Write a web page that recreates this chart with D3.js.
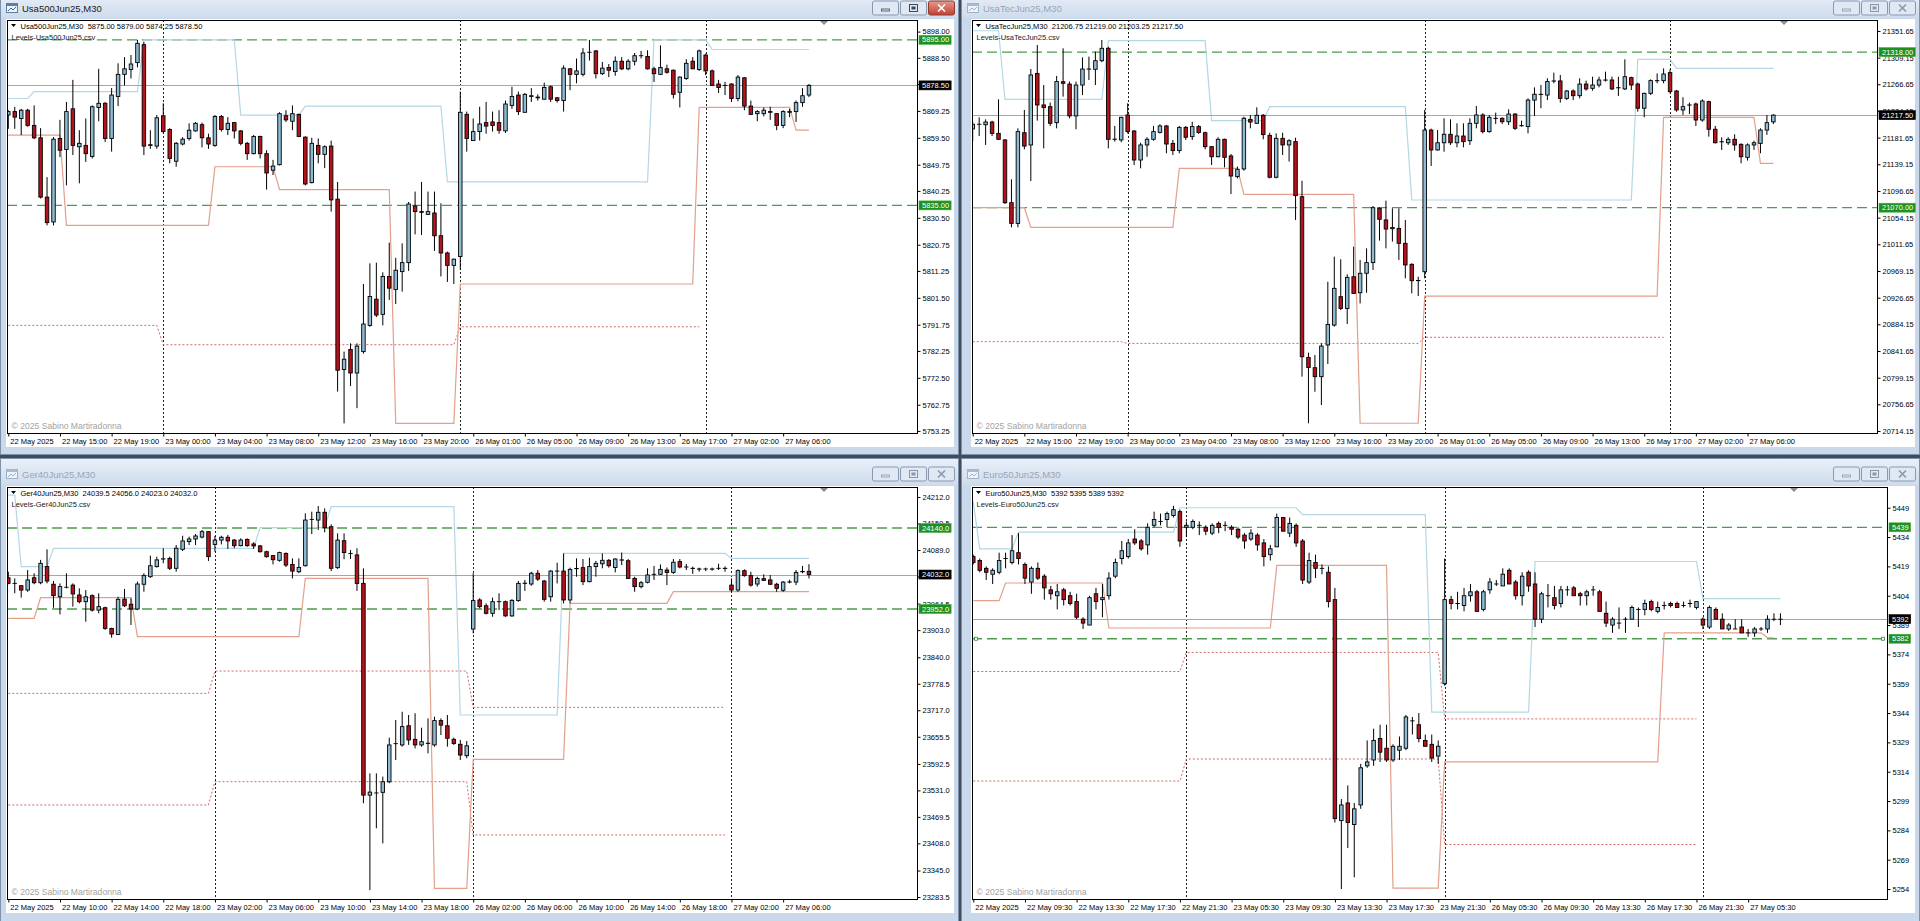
<!DOCTYPE html>
<html><head><meta charset="utf-8">
<script src="https://cdn.jsdelivr.net/npm/d3@7"></script>
<style>
html,body{margin:0;padding:0;background:#3e4c5d;overflow:hidden}
svg{display:block}
</style></head><body>
<svg id="chart" width="1920" height="921"></svg>
<script>
// ===================== DATA =====================
const usTimeLabels = ["22 May 2025","22 May 15:00","22 May 19:00","23 May 00:00","23 May 04:00","23 May 08:00","23 May 12:00","23 May 16:00","23 May 20:00","26 May 01:00","26 May 05:00","26 May 09:00","26 May 13:00","26 May 17:00","27 May 02:00","27 May 06:00"];
const gerTimeLabels = ["22 May 2025","22 May 10:00","22 May 14:00","22 May 18:00","23 May 02:00","23 May 06:00","23 May 10:00","23 May 14:00","23 May 18:00","26 May 02:00","26 May 06:00","26 May 10:00","26 May 14:00","26 May 18:00","27 May 02:00","27 May 06:00"];
const euTimeLabels = ["22 May 2025","22 May 09:30","22 May 13:30","22 May 17:30","22 May 21:30","23 May 05:30","23 May 09:30","23 May 13:30","23 May 17:30","23 May 21:30","26 May 05:30","26 May 09:30","26 May 13:30","26 May 17:30","26 May 21:30","27 May 05:30"];

const usSeparators = [24, 70, 108];
const gerSeparators = [32, 72, 112];
const euSeparators = [33, 73, 113];

const us500Ticks = [5898.00,5888.50,5879.00,5869.25,5859.50,5849.75,5840.25,5830.50,5820.75,5811.25,5801.50,5791.75,5782.25,5772.50,5762.75,5753.25];
const usTecTicks = [21351.65,21309.15,21266.65,21224.15,21181.65,21139.15,21096.65,21054.15,21011.65,20969.15,20926.65,20884.15,20841.65,20799.15,20756.65,20714.15];
const ger40Ticks = [24212.0,24150.5,24089.0,24027.5,23964.5,23903.0,23840.0,23778.5,23717.0,23655.5,23592.5,23531.0,23469.5,23408.0,23345.0,23283.5];
const eu50Ticks = [5449,5434,5419,5404,5389,5374,5359,5344,5329,5314,5299,5284,5269,5254];

const us500Levels = [5895.00, 5835.00];
const usTecLevels = [21318.00, 21070.00];
const ger40Levels = [24140.0, 23952.0];
const eu50Levels = [5439, 5382];

// [open, high, low, close]
const us500Bars = [
[5867.75,5869.5,5862.75,5869.0],[5869.0,5870.75,5862.75,5867.0],[5866.5,5870.0,5860.5,5869.5],[5869.5,5870.0,5863.5,5864.0],[5864.0,5871.25,5859.0,5859.5],
[5859.5,5863.0,5837.5,5838.0],[5838.0,5845.25,5827.75,5828.75],[5829.0,5859.75,5827.75,5859.0],[5859.25,5866.0,5852.5,5855.0],[5855.25,5872.5,5842.25,5869.0],
[5870.0,5880.5,5853.25,5856.75],[5856.25,5862.25,5843.0,5857.5],[5856.75,5866.5,5850.75,5853.75],[5852.75,5871.25,5852.0,5870.75],[5870.5,5884.5,5865.5,5872.0],
[5872.0,5872.5,5858.0,5859.25],[5859.25,5877.5,5854.5,5875.0],[5874.5,5886.5,5871.0,5882.5],[5882.5,5888.75,5878.5,5884.5],[5884.25,5889.5,5881.0,5886.25],
[5886.75,5895.0,5885.0,5893.75],[5893.25,5894.25,5853.25,5856.5],[5856.75,5862.25,5855.5,5857.0],[5856.5,5867.75,5855.5,5866.75],[5867.5,5872.0,5861.0,5861.75],
[5862.5,5863.0,5850.25,5852.0],[5851.0,5858.0,5849.0,5857.5],[5857.25,5859.75,5856.75,5859.0],[5859.25,5864.75,5858.5,5862.25],[5862.0,5865.25,5861.75,5864.75],
[5864.25,5865.0,5856.0,5859.5],[5859.5,5861.0,5855.5,5857.25],[5856.75,5867.75,5856.25,5867.25],[5867.25,5867.75,5861.75,5862.5],[5862.5,5867.0,5860.5,5864.75],
[5865.0,5865.25,5859.25,5862.0],[5862.0,5862.25,5856.75,5857.5],[5857.5,5858.0,5851.5,5853.75],[5853.75,5860.5,5853.5,5860.0],[5860.0,5860.25,5852.0,5853.75],
[5853.75,5855.0,5840.75,5846.75],[5847.75,5851.5,5846.0,5849.25],[5849.75,5868.75,5849.5,5868.25],[5867.5,5869.5,5865.25,5866.0],[5865.5,5871.25,5862.25,5868.25],
[5868.0,5868.25,5859.75,5860.0],[5859.75,5860.0,5842.25,5842.75],[5843.25,5859.5,5843.0,5857.5],[5856.75,5859.25,5850.25,5853.5],[5853.5,5856.75,5848.5,5856.25],
[5856.5,5858.5,5832.75,5837.0],[5837.25,5843.5,5767.5,5775.25],[5775.5,5782.0,5756.0,5779.25],[5782.75,5785.0,5769.5,5774.25],[5774.25,5785.0,5761.5,5784.0],
[5782.0,5806.5,5781.25,5792.0],[5791.5,5814.0,5791.0,5802.0],[5801.0,5814.25,5794.5,5795.25],[5795.5,5810.75,5791.5,5809.25],[5809.25,5821.5,5800.75,5805.0],
[5804.5,5816.0,5799.25,5811.5],[5811.0,5821.25,5803.75,5814.25],[5814.25,5836.25,5811.25,5835.5],[5834.75,5840.0,5824.5,5832.75],[5832.75,5843.5,5824.25,5832.5],
[5831.75,5840.0,5831.5,5832.75],[5832.25,5840.0,5818.5,5824.0],[5824.0,5835.75,5809.25,5817.75],[5817.75,5818.25,5807.25,5813.25],[5813.25,5815.75,5806.5,5815.5],
[5816.5,5876.25,5811.75,5868.75],[5868.0,5869.0,5854.5,5859.25],[5858.5,5866.5,5858.5,5861.75],[5861.75,5870.75,5858.5,5864.5],[5865.0,5872.5,5861.0,5863.75],
[5865.25,5869.0,5861.75,5864.0],[5865.0,5869.5,5861.0,5862.25],[5862.0,5873.0,5861.25,5871.75],[5871.25,5878.0,5870.0,5874.5],[5875.0,5876.25,5867.75,5869.0],
[5868.75,5875.75,5868.5,5875.25],[5874.5,5877.5,5872.5,5874.75],[5874.25,5875.25,5873.0,5874.0],[5873.5,5879.5,5873.25,5877.75],[5878.0,5878.5,5872.5,5873.5],
[5874.0,5874.25,5872.25,5873.0],[5873.0,5885.75,5869.0,5884.75],[5884.5,5884.75,5876.75,5882.5],[5882.5,5888.25,5879.25,5883.75],[5882.5,5892.0,5881.75,5890.25],
[5890.5,5895.0,5887.5,5890.5],[5891.0,5891.25,5881.0,5882.75],[5882.75,5887.0,5882.25,5884.75],[5885.0,5886.25,5881.5,5884.0],[5883.5,5889.0,5882.0,5887.25],
[5887.25,5888.75,5884.0,5884.5],[5884.5,5888.0,5884.0,5887.25],[5887.25,5890.25,5885.75,5889.25],[5889.25,5891.0,5888.25,5889.25],[5889.0,5891.25,5884.25,5884.5],
[5884.5,5885.25,5879.75,5882.75],[5882.5,5893.0,5882.25,5885.0],[5884.5,5886.0,5882.75,5883.25],[5884.0,5884.25,5873.75,5875.25],[5876.0,5881.75,5870.5,5881.5],
[5881.0,5888.0,5880.5,5886.5],[5887.25,5888.75,5884.5,5884.5],[5884.25,5891.5,5883.75,5891.0],[5889.5,5890.0,5882.25,5883.75],[5883.75,5884.25,5878.25,5878.5],
[5879.0,5880.5,5875.75,5877.75],[5878.5,5879.75,5875.0,5878.5],[5879.0,5879.25,5872.5,5873.75],[5873.75,5882.25,5872.75,5881.5],[5881.25,5881.5,5869.5,5871.0],
[5871.0,5873.0,5867.75,5868.0],[5868.25,5869.5,5865.5,5869.0],[5868.25,5870.5,5867.25,5869.5],[5869.0,5870.75,5866.0,5868.75],[5868.25,5868.5,5862.25,5864.0],
[5864.0,5869.5,5863.0,5869.0],[5868.75,5870.0,5867.0,5869.0],[5869.0,5873.0,5865.25,5872.25],[5872.25,5877.5,5870.75,5874.75],[5875.00,5879.00,5874.25,5878.50]
];

const usTecBars = [
[21195.5,21207.0,21176.25,21203.0],[21203.0,21214.0,21184.25,21203.0],[21202.25,21210.75,21170.0,21206.5],[21206.5,21208.75,21184.25,21188.5],[21188.5,21242.75,21178.0,21179.0],
[21178.0,21179.0,21076.0,21078.0],[21078.0,21115.25,21038.75,21045.0],[21045.0,21196.5,21038.75,21191.25],[21189.5,21225.75,21163.0,21168.25],[21170.0,21291.0,21112.5,21281.5],
[21284.0,21329.25,21208.75,21233.75],[21233.75,21265.5,21164.5,21229.5],[21231.0,21237.5,21200.25,21204.5],[21205.5,21280.0,21196.5,21271.0],[21270.75,21324.0,21247.0,21268.25],
[21267.0,21271.0,21212.5,21216.25],[21216.25,21271.0,21195.0,21265.5],[21265.5,21309.5,21249.5,21291.0],[21290.75,21310.75,21273.5,21291.0],[21290.5,21318.75,21265.5,21304.25],
[21304.25,21337.25,21301.75,21324.0],[21324.0,21326.5,21164.5,21179.0],[21179.0,21200.25,21175.25,21179.25],[21178.0,21215.0,21174.25,21214.0],[21217.75,21236.25,21188.5,21191.25],
[21192.25,21193.75,21138.0,21146.0],[21146.0,21173.5,21132.75,21170.0],[21170.0,21182.25,21151.25,21179.0],[21179.0,21200.25,21176.75,21191.25],[21190.0,21203.0,21188.5,21200.25],
[21200.25,21201.75,21156.75,21171.5],[21172.5,21178.0,21154.0,21161.0],[21161.0,21200.25,21156.75,21198.0],[21198.0,21200.25,21178.0,21182.25],[21183.25,21207.0,21178.0,21199.25],
[21199.25,21201.75,21187.5,21190.0],[21189.5,21191.25,21163.0,21167.25],[21167.25,21168.25,21138.0,21151.25],[21151.25,21182.25,21150.25,21179.0],[21179.0,21180.0,21134.25,21150.25],
[21152.5,21155.5,21091.75,21120.5],[21119.5,21135.5,21116.75,21131.25],[21131.75,21215.0,21129.0,21212.5],[21210.75,21217.75,21196.5,21206.5],[21204.5,21230.0,21203.5,21217.25],
[21217.25,21219.25,21179.0,21186.5],[21185.25,21189.5,21116.75,21118.5],[21118.5,21188.5,21116.75,21180.5],[21180.5,21189.5,21154.0,21170.0],[21170.0,21179.0,21143.5,21176.75],
[21175.25,21181.5,21050.5,21089.25],[21087.5,21113.0,20800.75,20832.5],[20831.5,20839.0,20726.5,20815.5],[20815.0,20835.25,20776.75,20800.75],[20800.75,20854.0,20755.5,20849.5],
[20851.25,20952.0,20821.0,20884.0],[20883.0,20992.0,20880.5,20941.5],[20928.25,20987.75,20907.0,20909.5],[20909.5,20963.75,20884.75,20959.0],[20960.0,21008.0,20932.5,20933.5],
[20934.5,20986.75,20917.5,20965.5],[20965.5,21005.25,20934.5,20982.5],[20982.5,21072.75,20970.75,21070.0],[21069.0,21070.5,21017.5,21051.5],[21050.5,21081.25,21005.25,21036.0],
[21036.5,21069.0,21016.0,21038.5],[21037.0,21069.0,20986.75,21013.25],[21013.25,21050.5,20957.5,20978.75],[20979.75,20981.5,20933.5,20953.75],[20953.75,20960.0,20929.25,20954.0],
[20968.0,21225.75,20957.5,21193.75],[21193.75,21196.0,21136.5,21162.0],[21162.0,21193.75,21161.0,21173.5],[21173.5,21212.5,21159.25,21187.0],[21187.0,21210.75,21170.0,21173.5],
[21173.5,21204.5,21166.25,21184.25],[21184.25,21204.5,21166.25,21175.25],[21176.75,21212.5,21170.0,21204.5],[21204.5,21232.0,21196.5,21217.75],[21217.75,21220.5,21188.5,21191.25],
[21191.25,21217.75,21189.5,21214.0],[21212.25,21221.5,21203.5,21212.5],[21212.5,21214.0,21203.5,21207.0],[21207.0,21226.75,21201.75,21219.25],[21219.25,21220.5,21193.75,21196.5],
[21200.75,21208.75,21199.25,21200.5],[21199.25,21244.25,21188.5,21241.5],[21241.5,21261.75,21216.25,21250.75],[21250.5,21265.5,21228.5,21250.75],[21249.5,21276.25,21241.5,21271.0],
[21271.75,21285.25,21268.25,21272.0],[21272.0,21281.5,21237.5,21244.25],[21244.25,21257.5,21241.5,21256.0],[21256.0,21258.5,21241.5,21248.5],[21248.5,21276.25,21244.25,21267.0],
[21267.0,21272.5,21256.5,21259.25],[21260.25,21278.75,21256.5,21265.5],[21265.5,21278.75,21261.75,21273.5],[21273.25,21286.75,21271.0,21273.5],[21273.5,21278.75,21257.5,21259.25],
[21261.25,21278.75,21248.0,21261.0],[21259.25,21306.5,21257.5,21278.75],[21277.25,21278.75,21257.5,21265.5],[21267.0,21269.25,21223.0,21228.5],[21228.5,21253.25,21214.0,21252.25],
[21252.25,21274.5,21249.5,21272.5],[21272.25,21284.0,21268.25,21272.5],[21272.5,21292.0,21268.25,21283.0],[21285.25,21290.5,21252.25,21255.0],[21256.0,21257.5,21223.0,21225.75],
[21225.75,21246.0,21217.75,21231.0],[21233.5,21237.5,21219.25,21233.75],[21235.25,21237.5,21200.25,21209.75],[21209.75,21242.75,21207.0,21240.0],[21239.0,21240.5,21183.25,21195.0],
[21195.0,21200.25,21172.5,21173.5],[21175.0,21182.25,21162.0,21175.25],[21173.5,21182.25,21170.0,21179.0],[21179.0,21187.0,21161.0,21170.0],[21171.0,21172.5,21140.75,21151.25],
[21150.25,21172.5,21145.0,21170.0],[21170.0,21176.75,21162.0,21173.5],[21172.5,21196.5,21156.75,21193.75],[21193.75,21217.75,21186.0,21205.5],[21206.75,21219.00,21203.25,21217.50]
];

const ger40Bars = [
[24024.5,24038.5,24009.5,24011.5],[24011.5,24023.0,23988.5,24011.5],[24006.0,24007.5,23978.5,23996.0],[23996.0,24042.5,23992.0,24019.5],[24024.5,24035.0,24009.5,24013.0],
[24013.0,24066.0,24009.5,24058.0],[24050.5,24090.5,24011.5,24017.0],[24009.5,24017.0,23955.0,23983.0],[23980.5,24011.5,23939.5,24004.0],[24002.5,24035.0,24000.0,24002.5],
[24007.5,24011.5,23957.5,23987.0],[23984.5,24000.0,23965.0,23969.0],[23969.0,23996.0,23922.5,23980.5],[23983.0,23986.0,23946.0,23949.5],[23949.5,23988.5,23942.0,23957.5],
[23955.0,23957.5,23903.5,23907.0],[23907.0,23908.5,23885.5,23894.0],[23893.0,23980.5,23891.5,23974.5],[23975.0,23998.5,23956.5,23959.5],[23963.0,23977.0,23915.0,23952.0],
[23952.0,24015.5,23949.5,24010.0],[24009.5,24035.0,23992.0,24029.5],[24027.0,24076.0,24024.5,24052.5],[24050.5,24073.5,24048.0,24066.0],[24068.0,24093.0,24058.0,24068.5],
[24069.5,24073.5,24042.5,24046.5],[24046.5,24100.5,24038.5,24093.0],[24090.5,24122.0,24086.5,24110.0],[24108.5,24120.0,24100.5,24114.5],[24114.5,24126.0,24100.5,24121.5],
[24119.0,24135.5,24116.0,24131.5],[24131.5,24133.0,24063.5,24073.5],[24102.0,24121.5,24085.0,24112.0],[24112.0,24122.0,24102.0,24118.5],[24118.5,24124.0,24091.5,24110.0],
[24112.0,24114.5,24093.0,24099.0],[24099.0,24116.0,24097.5,24112.0],[24113.5,24116.0,24096.5,24099.0],[24103.0,24107.0,24091.5,24098.5],[24098.5,24100.5,24083.0,24085.0],
[24085.0,24087.5,24071.0,24073.5],[24076.0,24077.5,24055.5,24066.5],[24065.0,24085.0,24062.0,24083.0],[24081.0,24083.5,24049.5,24054.0],[24055.5,24069.5,24023.0,24040.0],
[24038.5,24069.5,24035.0,24048.5],[24052.5,24174.0,24050.5,24158.5],[24160.0,24178.0,24126.0,24160.0],[24158.5,24191.0,24135.5,24176.5],[24176.5,24185.5,24130.0,24141.0],
[24143.0,24148.5,24040.0,24046.5],[24048.0,24127.5,24045.0,24112.0],[24110.5,24127.5,24067.5,24083.0],[24081.0,24089.0,24068.0,24081.0],[24077.5,24093.0,23994.0,24011.5],
[24011.5,24046.5,23501.0,23520.0],[23520.0,23570.5,23299.5,23527.0],[23525.0,23570.5,23443.0,23525.0],[23526.5,23563.0,23408.0,23551.0],[23551.0,23653.5,23547.5,23636.5],
[23639.5,23694.5,23601.5,23639.5],[23636.5,23713.5,23632.5,23679.0],[23681.0,23706.0,23636.5,23648.0],[23649.5,23710.0,23628.5,23636.5],[23636.5,23676.5,23632.5,23644.0],
[23640.0,23698.0,23617.0,23640.5],[23636.5,23702.0,23632.5,23693.0],[23693.0,23698.0,23659.5,23682.5],[23681.0,23706.0,23632.5,23652.0],[23649.5,23653.5,23636.5,23640.0],
[23638.0,23648.0,23601.5,23613.0],[23611.5,23645.5,23605.5,23634.5],[23905.5,24035.0,23895.5,23971.5],[23973.0,23977.0,23953.5,23957.5],[23959.5,23965.0,23939.5,23942.0],
[23942.0,23978.5,23934.0,23969.0],[23969.0,23988.5,23949.5,23969.0],[23969.0,23971.5,23934.0,23936.0],[23936.0,23975.0,23934.0,23972.0],[23971.5,24017.0,23969.0,24011.5],
[24011.5,24019.5,23994.0,24012.0],[24010.0,24038.5,24006.0,24035.0],[24035.0,24042.5,24017.0,24021.5],[24017.0,24019.5,23969.0,23974.5],[23980.5,24042.5,23969.0,24040.0],
[24040.0,24059.5,24011.5,24040.0],[24040.0,24081.0,23965.0,23973.0],[23973.0,24048.0,23965.0,24044.0],[24045.5,24069.5,24027.0,24046.0],[24048.0,24068.0,24007.5,24015.5],
[24015.5,24071.0,24014.0,24050.5],[24050.5,24063.5,24027.0,24058.0],[24057.0,24081.0,24046.5,24065.0],[24065.0,24068.0,24048.0,24052.5],[24048.5,24069.5,24037.0,24068.0],
[24066.0,24083.0,24054.0,24065.5],[24064.0,24068.0,24021.5,24023.0],[24023.0,24027.0,23992.0,24004.0],[24004.0,24017.0,24000.0,24013.0],[24014.0,24046.5,24011.5,24031.0],
[24032.5,24052.0,24019.5,24032.5],[24032.5,24055.5,24031.0,24044.0],[24042.5,24048.5,24007.5,24037.0],[24037.0,24068.0,24033.5,24060.5],[24062.0,24068.0,24046.5,24049.5],
[24049.5,24056.5,24042.5,24049.5],[24046.5,24050.5,24033.5,24046.0],[24045.0,24048.0,24038.5,24044.5],[24045.0,24048.0,24040.0,24045.0],[24044.5,24048.0,24041.0,24045.0],
[24046.5,24057.0,24042.5,24046.5],[24046.0,24051.0,24038.5,24046.5],[24007.5,24023.0,23990.5,23996.0],[23996.0,24044.0,23992.0,24041.0],[24041.0,24044.0,24027.0,24029.5],
[24029.5,24038.5,24004.0,24007.5],[24010.0,24027.0,24004.0,24023.0],[24022.5,24032.5,24017.0,24018.5],[24019.5,24031.0,24007.5,24009.5],[24009.5,24013.0,23992.0,24000.0],
[23995.5,24017.0,23992.0,24014.5],[24014.5,24020.0,24011.5,24015.0],[24014.5,24042.5,24007.5,24037.0],[24038.5,24052.0,24035.0,24039.0],[24039.5,24056.0,24023.0,24032.0]
];

const eu50Bars = [
[5424,5425,5420,5421],[5422,5423,5416,5417],[5418,5419,5412,5416],[5415,5418,5410,5417],[5416,5426,5415,5422],
[5423,5426,5418,5423],[5421,5435,5420,5427],[5426,5436,5420,5423],[5420,5421,5410,5413],[5411,5419,5405,5418],
[5418,5421,5412,5413],[5414,5415,5402,5408],[5407,5409,5402,5405],[5404,5410,5397,5406],[5407,5408,5399,5402],
[5404,5406,5399,5400],[5401,5405,5392,5393],[5392,5393,5387,5390],[5389,5404,5389,5403],[5405,5408,5397,5401],
[5402,5410,5393,5403],[5404,5416,5402,5413],[5414,5423,5413,5421],[5423,5432,5420,5427],[5424,5433,5423,5431],
[5433,5438,5430,5431],[5432,5433,5427,5428],[5430,5441,5425,5439],[5440,5447,5439,5443],[5442,5446,5440,5442],
[5443,5447,5439,5446],[5445,5450,5444,5448],[5447,5448,5429,5432],[5439,5442,5434,5440],[5439,5443,5438,5442],
[5440,5442,5435,5440],[5439,5440,5435,5437],[5436,5441,5435,5440],[5441,5442,5436,5439],[5440,5442,5437,5440],
[5439,5440,5435,5438],[5438,5439,5433,5434],[5435,5436,5428,5432],[5433,5438,5432,5436],[5435,5436,5427,5430],
[5431,5433,5419,5424],[5425,5430,5422,5428],[5429,5446,5429,5444],[5444,5444,5437,5437],[5436,5444,5434,5441],
[5440,5441,5429,5431],[5432,5433,5410,5412],[5411,5426,5410,5422],[5421,5425,5413,5418],[5418,5420,5415,5418],
[5416,5419,5398,5401],[5402,5408,5288,5290],[5289,5300,5254,5297],[5298,5307,5275,5288],[5287,5298,5260,5295],
[5297,5318,5295,5316],[5317,5330,5316,5319],[5320,5336,5317,5330],[5331,5338,5319,5324],[5326,5338,5319,5320],
[5320,5328,5319,5327],[5325,5332,5320,5327],[5326,5343,5325,5342],[5340,5342,5333,5340],[5338,5344,5329,5331],
[5330,5333,5327,5327],[5328,5333,5319,5321],[5322,5330,5318,5327],[5359,5423,5358,5402],[5402,5404,5397,5400],
[5400,5406,5397,5400],[5399,5408,5396,5404],[5404,5410,5401,5406],[5406,5407,5396,5396],[5397,5407,5396,5406],
[5407,5413,5405,5411],[5410,5412,5409,5410],[5409,5418,5409,5415],[5417,5418,5410,5410],[5411,5412,5402,5404],
[5404,5416,5399,5414],[5416,5417,5406,5409],[5410,5416,5388,5392],[5392,5406,5390,5405],[5404,5410,5398,5404],
[5403,5409,5397,5399],[5400,5409,5398,5407],[5407,5409,5404,5407],[5408,5409,5404,5404],[5405,5406,5399,5404],
[5404,5407,5399,5406],[5407,5409,5404,5407],[5406,5407,5396,5396],[5395,5401,5388,5390],[5389,5393,5385,5392],
[5390,5398,5387,5390],[5392,5393,5385,5392],[5392,5399,5392,5398],[5397,5398,5388,5397],[5397,5402,5394,5400],
[5401,5402,5396,5397],[5396,5401,5395,5398],[5399,5401,5397,5399],[5400,5401,5398,5399],[5400,5401,5398,5398],
[5399,5401,5398,5399],[5400,5402,5398,5400],[5398,5401,5397,5401],[5392,5393,5387,5389],[5388,5399,5387,5398],
[5397,5398,5392,5392],[5392,5395,5387,5387],[5387,5390,5386,5389],[5387,5392,5387,5387],[5388,5392,5385,5385],
[5385,5387,5383,5385],[5385,5388,5383,5387],[5387,5388,5386,5387],[5387,5394,5385,5392],[5392,5395,5391,5392],
[5392,5395,5389,5392]
];

// indicator step levels: [fromBar, toBar, price]
const us500Upper = [[0,3,5873.75],[4,20,5876.25],[21,35,5895.0],[36,45,5867.75],[46,67,5871.0],[68,99,5843.5],[100,108,5895.0],[109,124,5891.5]];
const us500Lower = [[0,8,5860.5],[9,31,5827.75],[32,41,5849.0],[42,59,5840.75],[60,69,5756.0],[70,106,5806.5],[107,121,5870.5],[122,124,5862.25]];
const us500Dotted = [[[0,23,5791.5],[24,69,5784.5],[70,107,5791.0]]];

const usTecUpper = [[0,4,21352.0],[5,20,21242.75],[21,36,21336.25],[37,45,21208.75],[46,67,21231.0],[68,102,21082.25],[103,108,21306.5],[109,124,21292.0]];
const usTecLower = [[0,8,21070.0],[9,31,21038.75],[32,41,21132.75],[42,59,21091.25],[60,69,20726.5],[70,106,20929.25],[107,121,21214.0],[122,124,21140.75]];
const usTecDotted = [[[0,23,20856.5],[24,69,20853.75],[70,107,20863.5]]];

const ger40Upper = [[0,1,24216.5],[2,6,24050.25],[7,38,24092.75],[39,49,24140.75],[50,69,24189.5],[70,85,23706.0],[86,111,24081.25],[112,124,24069.5]];
const ger40Lower = [[0,4,23930.25],[5,19,23978.25],[20,45,23887.75],[46,65,24023.25],[66,71,23303.5],[72,86,23603.0],[87,102,23965.25],[103,124,23992.25]];
const ger40Dotted = [[[0,31,23756.25],[32,71,23808.0],[72,111,23723.75]],[[0,31,23497.0],[32,71,23551.25],[72,111,23427.5]]];

const eu50Upper = [[0,0,5452],[1,6,5428],[7,31,5436.5],[32,50,5449],[51,70,5445.5],[71,86,5344.5],[87,112,5421.5],[113,125,5402.5]];
const eu50Lower = [[0,4,5401.5],[5,20,5410.5],[21,46,5387.5],[47,64,5419.5],[65,72,5254.5],[73,106,5319],[107,122,5385],[123,124,5382.5]];
const eu50Dotted = [[[0,32,5365.25],[33,72,5375],[73,112,5341]],[[0,32,5309.25],[33,72,5320.5],[73,112,5276.75]]];

// ===================== LAYOUT / STYLE =====================
const FONT = '"Liberation Sans", Arial, sans-serif';
const BULL = '#8dbbd4', BEAR = '#b5121b';

const panels = [
  {symbol:'Usa500Jun25,M30', active:true, win:{x:0,y:-8,w:959,h:463}, plot:{x0:7,y0:20,x1:917,y1:433},
   firstBarX:8.3, barStep:6.457, yDomain:[5752.5,5902.2], fmt:'.2f',
   bars:us500Bars, upper:us500Upper, lower:us500Lower, dotted:us500Dotted, levels:us500Levels,
   ticks:us500Ticks, times:usTimeLabels, seps:usSeparators, csv:'Levels-Usa500Jun25.csv'},
  {symbol:'UsaTecJun25,M30', active:false, win:{x:961,y:-8,w:959,h:463}, plot:{x0:972,y0:20,x1:1877,y1:433},
   firstBarX:972.7, barStep:6.457, yDomain:[20711.0,21369.1], fmt:'.2f',
   bars:usTecBars, upper:usTecUpper, lower:usTecLower, dotted:usTecDotted, levels:usTecLevels,
   ticks:usTecTicks, times:usTimeLabels, seps:usSeparators, csv:'Levels-UsaTecJun25.csv'},
  {symbol:'Ger40Jun25,M30', active:false, win:{x:0,y:458,w:959,h:470}, plot:{x0:7,y0:487,x1:917,y1:899},
   firstBarX:8.3, barStep:6.457, yDomain:[23278.9,24235.2], fmt:'.1f',
   bars:ger40Bars, upper:ger40Upper, lower:ger40Lower, dotted:ger40Dotted, levels:ger40Levels,
   ticks:ger40Ticks, times:gerTimeLabels, seps:gerSeparators, csv:'Levels-Ger40Jun25.csv'},
  {symbol:'Euro50Jun25,M30', active:false, win:{x:961,y:458,w:959,h:470}, plot:{x0:972,y0:487,x1:1887,y1:899},
   firstBarX:973.3, barStep:6.457, yDomain:[5248.9,5459.6], fmt:'d',
   bars:eu50Bars, upper:eu50Upper, lower:eu50Lower, dotted:eu50Dotted, levels:eu50Levels,
   ticks:eu50Ticks, times:euTimeLabels, seps:euSeparators, csv:'Levels-Euro50Jun25.csv', anchorLevel:1}
];

// ===================== DRAW =====================
const svg = d3.select('#chart');
const defs = svg.append('defs');
const grad = defs.append('linearGradient').attr('id','tbar').attr('x1',0).attr('y1',0).attr('x2',0).attr('y2',1);
grad.append('stop').attr('offset','0%').attr('stop-color','#e8eff8');
grad.append('stop').attr('offset','100%').attr('stop-color','#cfdcec');
const cgrad = defs.append('linearGradient').attr('id','cbtn').attr('x1',0).attr('y1',0).attr('x2',0).attr('y2',1);
cgrad.append('stop').attr('offset','0%').attr('stop-color','#e79a8e');
cgrad.append('stop').attr('offset','100%').attr('stop-color','#c2402f');

const segPoints = segs => segs.flatMap(s => [[s[0], s[2]], [s[1], s[2]]]);

panels.forEach((p, k) => {
  const {win, plot} = p;
  const g = svg.append('g');
  const xs = d3.scaleLinear()
    .domain([(plot.x0 - p.firstBarX) / p.barStep, (plot.x1 - p.firstBarX) / p.barStep])
    .range([plot.x0, plot.x1]);
  const ys = d3.scaleLinear().domain(p.yDomain).range([plot.y1, plot.y0]);
  const fmt = d3.format(p.fmt);
  const last = p.bars[p.bars.length - 1];

  // window frame
  g.append('rect').attr('x', win.x + 0.5).attr('y', win.y + 0.5).attr('width', win.w - 1).attr('height', win.h - 1)
    .attr('fill', '#c9d8ea').attr('stroke', '#7d91a9');
  g.append('rect').attr('x', win.x + 1).attr('y', win.y + 1).attr('width', win.w - 2).attr('height', plot.y0 - 3 - win.y)
    .attr('fill', 'url(#tbar)');
  // icon
  const ix = win.x + 6, iy = win.y + 11;
  g.append('rect').attr('x', ix + 0.5).attr('y', iy + 0.5).attr('width', 11).attr('height', 9).attr('fill', '#eef3f9').attr('stroke', p.active ? '#5f7fa6' : '#9fb1c6');
  g.append('rect').attr('x', ix + 0.5).attr('y', iy + 0.5).attr('width', 11).attr('height', 2.5).attr('fill', p.active ? '#5f7fa6' : '#aabbd0');
  g.append('path').attr('d', `M${ix+2},${iy+8} L${ix+5},${iy+5} L${ix+7},${iy+7} L${ix+10},${iy+4}`).attr('fill','none').attr('stroke', p.active ? '#4a6a94' : '#9fb1c6');
  // title
  g.append('text').attr('x', win.x + 22).attr('y', win.y + 19.5).attr('font-family', FONT).attr('font-size', 9.5)
    .attr('fill', p.active ? '#1a1a1a' : '#98a5b5').text(p.symbol);
  // buttons
  const bx0 = win.x + win.w;
  [{dx:-87,t:'min'},{dx:-59,t:'max'},{dx:-31,t:'close'}].forEach(b => {
    const x = bx0 + b.dx, y = win.y + 8.5;
    const isClose = b.t === 'close' && p.active;
    g.append('rect').attr('x', x + 0.5).attr('y', y + 0.5).attr('width', 26).attr('height', 14).attr('rx', 2)
      .attr('fill', isClose ? 'url(#cbtn)' : '#dfe8f3').attr('stroke', isClose ? '#8e3a30' : '#8799b0');
    const c = isClose ? '#ffffff' : (p.active ? '#3b4a5c' : '#8a98aa');
    const cx = x + 13.5, cy = y + 7.5;
    if (b.t === 'min') g.append('rect').attr('x', cx - 4).attr('y', cy + 1).attr('width', 8).attr('height', 2).attr('fill', 'none').attr('stroke', c).attr('stroke-width', 0.8);
    if (b.t === 'max') { g.append('rect').attr('x', cx - 4).attr('y', cy - 3.5).attr('width', 8).attr('height', 7).attr('fill', 'none').attr('stroke', c);
                         g.append('rect').attr('x', cx - 2).attr('y', cy - 1.5).attr('width', 4).attr('height', 3).attr('fill', c); }
    if (b.t === 'close') g.append('path').attr('d', `M${cx-3.5},${cy-3.5}L${cx+3.5},${cy+3.5}M${cx+3.5},${cy-3.5}L${cx-3.5},${cy+3.5}`)
      .attr('stroke', c).attr('stroke-width', 1.6);
  });

  // white chart area
  const wx0 = plot.x0 - 1, wy0 = plot.y0 - 1, wx1 = win.x + win.w - 5, wy1 = plot.y1 + 14;
  g.append('rect').attr('x', wx0).attr('y', wy0).attr('width', wx1 - wx0).attr('height', wy1 - wy0).attr('fill', '#ffffff');

  // clip
  defs.append('clipPath').attr('id', 'clip' + k).append('rect')
    .attr('x', plot.x0).attr('y', plot.y0).attr('width', plot.x1 - plot.x0).attr('height', plot.y1 - plot.y0);
  const cg = g.append('g').attr('clip-path', `url(#clip${k})`);

  // period separators
  cg.selectAll('line.sep').data(p.seps).join('line').attr('class', 'sep')
    .attr('x1', d => Math.round(xs(d)) + 0.5).attr('x2', d => Math.round(xs(d)) + 0.5)
    .attr('y1', plot.y0).attr('y2', plot.y1)
    .attr('stroke', '#222').attr('stroke-width', 1).attr('stroke-dasharray', '2,2');

  const line = d3.line().x(d => xs(d[0])).y(d => ys(d[1]));
  p.dotted.forEach(segs => cg.append('path').attr('d', line(segPoints(segs)))
    .attr('fill', 'none').attr('stroke', '#d26a66').attr('stroke-width', 1).attr('stroke-dasharray', '2,2'));

  // green levels
  cg.selectAll('line.lvl').data(p.levels).join('line').attr('class', 'lvl')
    .attr('x1', plot.x0).attr('x2', plot.x1)
    .attr('y1', d => ys(d)).attr('y2', d => ys(d))
    .attr('stroke', '#4f9b4f').attr('stroke-width', 1.3).attr('stroke-dasharray', '10,5');

  cg.append('path').attr('d', line(segPoints(p.upper))).attr('fill', 'none').attr('stroke', '#b4d6e6').attr('stroke-width', 1.2);
  cg.append('path').attr('d', line(segPoints(p.lower))).attr('fill', 'none').attr('stroke', '#e3a08b').attr('stroke-width', 1.2);

  // bid line
  cg.append('line').attr('x1', plot.x0).attr('x2', plot.x1)
    .attr('y1', Math.round(ys(last[3])) + 0.5).attr('y2', Math.round(ys(last[3])) + 0.5)
    .attr('stroke', '#a6a6a6').attr('stroke-width', 1);

  // candles
  const cand = cg.selectAll('g.c').data(p.bars).join('g').attr('class', 'c');
  cand.append('line')
    .attr('x1', (d, i) => xs(i)).attr('x2', (d, i) => xs(i))
    .attr('y1', d => ys(d[1])).attr('y2', d => ys(d[2]))
    .attr('stroke', '#000').attr('stroke-width', 1);
  cand.append('rect')
    .attr('x', (d, i) => xs(i) - 1.75).attr('width', 3.5)
    .attr('y', d => ys(Math.max(d[0], d[3])))
    .attr('height', d => Math.max(0.01, Math.abs(ys(d[0]) - ys(d[3]))))
    .attr('fill', d => d[3] >= d[0] ? BULL : BEAR)
    .attr('stroke', '#000').attr('stroke-width', 0.9);

  // anchor markers of a selected level
  if (p.anchorLevel !== undefined) {
    const yv = ys(p.levels[p.anchorLevel]);
    [plot.x0 + 2, plot.x1 - 6].forEach(ax => g.append('rect').attr('x', ax + 0.5).attr('y', yv - 1.5).attr('width', 3).attr('height', 3)
      .attr('fill', '#fff').attr('stroke', '#2e8b2e').attr('stroke-width', 0.8));
  }

  // plot frame
  g.append('rect').attr('x', plot.x0 + 0.5).attr('y', plot.y0 + 0.5).attr('width', plot.x1 - plot.x0).attr('height', plot.y1 - plot.y0)
    .attr('fill', 'none').attr('stroke', '#000').attr('stroke-width', 1);

  // chart shift marker
  const tx = plot.x1 - 93;
  g.append('path').attr('d', `M${tx - 4},${plot.y0 + 1} L${tx + 4},${plot.y0 + 1} L${tx},${plot.y0 + 5} Z`).attr('fill', '#8c8c8c');

  // x axis
  const xAxis = d3.axisBottom(xs).tickValues(p.times.map((_, j) => j * 8))
    .tickFormat((d, j) => p.times[j]).tickSize(3).tickSizeOuter(0);
  const gx = g.append('g').attr('transform', `translate(0,${plot.y1 + 0.5})`).call(xAxis);
  gx.select('.domain').remove();
  gx.selectAll('line').attr('stroke', '#000');
  gx.selectAll('text').attr('text-anchor', 'start').attr('x', 1.5).attr('y', 5).attr('dy', '0.72em')
    .attr('font-family', FONT).attr('font-size', 7.5).attr('fill', '#000');

  // y axis
  const yAxis = d3.axisRight(ys).tickValues(p.ticks).tickFormat(fmt).tickSize(3).tickSizeOuter(0);
  const gy = g.append('g').attr('transform', `translate(${plot.x1 + 0.5},0)`).call(yAxis);
  gy.select('.domain').remove();
  gy.selectAll('line').attr('stroke', '#000');
  gy.selectAll('text').attr('x', 5).attr('font-family', FONT).attr('font-size', 7.5).attr('fill', '#000');

  // price labels
  const lab = (v, fill) => {
    const yv = ys(v);
    const t = g.append('text').attr('x', plot.x1 + 5).attr('y', yv).attr('dy', '0.34em')
      .attr('font-family', FONT).attr('font-size', 7.5).attr('fill', '#fff').text(fmt(v));
    const w = t.node().getComputedTextLength();
    g.insert('rect', () => t.node()).attr('x', plot.x1 + 2).attr('y', yv - 4.5).attr('width', w + 5).attr('height', 9)
      .attr('fill', fill).attr('stroke', fill === '#000' ? '#000' : '#49b049').attr('stroke-width', 0.6);
  };
  p.levels.forEach(v => lab(v, '#1f8f1f'));
  lab(last[3], '#000');

  // header texts
  g.append('path').attr('d', `M${plot.x0 + 4},${plot.y0 + 4} L${plot.x0 + 9},${plot.y0 + 4} L${plot.x0 + 6.5},${plot.y0 + 7} Z`).attr('fill', '#000');
  g.append('text').attr('x', plot.x0 + 13.5).attr('y', plot.y0 + 9.3).attr('font-family', FONT).attr('font-size', 7.5)
    .attr('fill', '#000').style('white-space', 'pre')
    .text(`${p.symbol}  ${fmt(last[0])} ${fmt(last[1])} ${fmt(last[2])} ${fmt(last[3])}`);
  g.append('text').attr('x', plot.x0 + 4.5).attr('y', plot.y0 + 20.3).attr('font-family', FONT).attr('font-size', 7.5)
    .attr('fill', '#222').text(p.csv);
  g.append('text').attr('x', plot.x0 + 4.5).attr('y', plot.y1 - 4).attr('font-family', FONT).attr('font-size', 8.6)
    .attr('fill', '#a3a3a3').text('\u00A9 2025 Sabino Martiradonna');
});
</script>
</body></html>
